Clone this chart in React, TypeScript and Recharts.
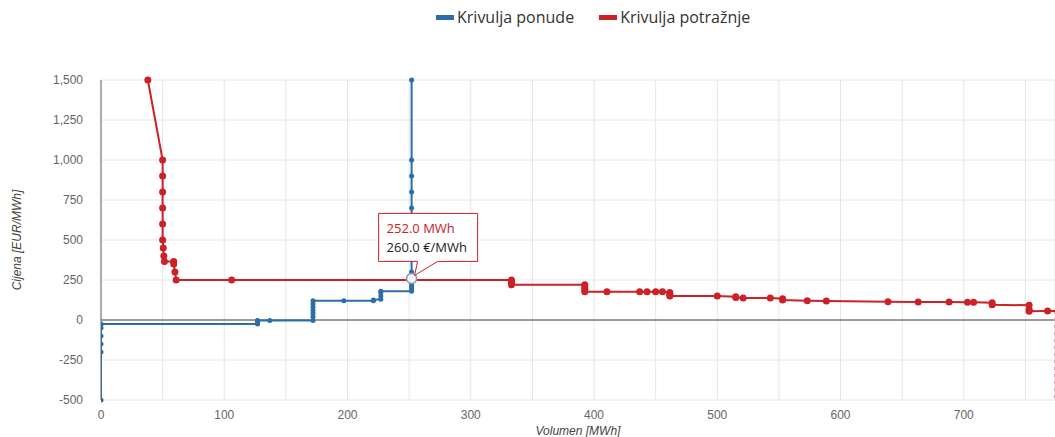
import {
  CartesianGrid,
  Line,
  LineChart,
  ReferenceDot,
  ReferenceLine,
  XAxis,
  YAxis,
} from "recharts";

const BLUE = "#2c6dab";
const RED = "#cc2127";

// Krivulja ponude (supply)
const supplyVolume = [
  0, 0, 0, 0, 0, 0, 0, 127, 127, 127, 127, 137, 172, 172, 172, 172, 172, 172,
  172, 197, 221, 221, 227, 227, 227, 227, 252, 252, 252, 252, 252, 252, 252,
  252, 252, 252, 252, 252, 252, 252, 252, 252,
];
const supplyPrice = [
  -500, -200, -150, -100, -50, -30, -25, -25, -15, -5, -3, -3, -3, 20, 40, 60,
  80, 100, 120, 120, 120, 125, 130, 150, 170, 180, 180, 195, 210, 225, 240,
  255, 260, 300, 400, 500, 600, 700, 800, 900, 1000, 1500,
];

// Krivulja potražnje (demand)
const demandVolume = [
  38, 50, 50, 50, 50, 50, 50, 50.5, 51, 51.5, 59, 59, 60, 61, 106, 333, 333,
  333, 333, 392.5, 392.5, 392.5, 392.5, 410.5, 437, 443, 450, 455.5, 461.5,
  461.5, 461.5, 500, 515, 515, 521, 543, 553, 553, 573, 588.5, 638.5, 663, 688,
  703, 708, 723, 723, 753, 753, 753, 768, 774,
];
const demandPrice = [
  1500, 1000, 900, 800, 700, 600, 500, 450, 400, 365, 365, 350, 300, 250, 250,
  250, 240, 230, 220, 220, 205, 190, 177, 177, 177, 177, 177, 177, 172, 160,
  150, 150, 146, 140, 137, 137, 133, 125, 121, 119, 114, 113, 113, 111, 111,
  108, 95, 92, 65, 55, 56, 56,
];
// last drop of demand, at the right edge
const demandTailVolume = [774, 774];
const demandTailPrice = [56, -500];

const xTicks = [0, 50, 100, 150, 200, 250, 300, 350, 400, 450, 500, 550, 600, 650, 700, 750];
const yTicks = [-500, -250, 0, 250, 500, 750, 1000, 1250, 1500];

const highlight = { volume: 252, price: 260 };

const supplyData = supplyVolume.map((x, i) => ({ x, y: supplyPrice[i] }));
const demandData = demandVolume.map((x, i) => ({ x, y: demandPrice[i] }));
const tailData = demandTailVolume.map((x, i) => ({ x, y: demandTailPrice[i] }));

const tickStyle = { fontSize: 12, fill: "#666", fontFamily: "Liberation Sans, Arial, sans-serif" };

function Callout(props: any) {
  const { viewBox } = props;
  const cx = viewBox.x + viewBox.width / 2;
  const cy = viewBox.y + viewBox.height / 2;
  const bx = cx - 33;
  const by = cy - 65;
  const w = 99;
  const h = 48;
  const path = `M${bx},${by} H${bx + w} V${by + h} H${cx + 26} L${cx + 3},${cy - 3} L${cx + 6},${by + h} H${bx} Z`;
  return (
    <g>
      <path d={path} fill="#fff" stroke={RED} strokeWidth={1} />
      <text x={bx + 8} y={by + 20} fontSize={13} fill={RED} fontFamily="Open Sans, sans-serif">
        {highlight.volume.toFixed(1)} MWh
      </text>
      <text x={bx + 8} y={by + 39} fontSize={13} fill="#222" fontFamily="Open Sans, sans-serif">
        {highlight.price.toFixed(1)} €/MWh
      </text>
    </g>
  );
}

function DemandDot(props: any) {
  const { cx, cy, index } = props;
  if (index === demandData.length - 1) return <g key={`d${index}`} />;
  return <circle key={`d${index}`} cx={cx} cy={cy} r={3.5} fill={RED} />;
}

function LegendBox() {
  const items = [
    { name: "Krivulja ponude", color: BLUE },
    { name: "Krivulja potražnje", color: RED },
  ];
  return (
    <div
      style={{
        position: "absolute",
        left: 436,
        top: 6,
        display: "flex",
        gap: 25,
        fontFamily: "Open Sans, sans-serif",
        fontSize: 16,
        color: "#333",
      }}
    >
      {items.map((it) => (
        <div key={it.name} style={{ display: "flex", alignItems: "center" }}>
          <span style={{ width: 18, height: 5, background: it.color, marginRight: 3 }} />
          <span>{it.name}</span>
        </div>
      ))}
    </div>
  );
}

export default function App() {
  return (
    <div style={{ position: "absolute", left: 0, top: 0, width: 1055, height: 437, background: "#fff" }}>
      <LineChart
        width={1055}
        height={437}
        margin={{ top: 80, right: 0, bottom: 0, left: 0 }}
      >
        <CartesianGrid stroke="#e6e6e6" />
        <XAxis
          type="number"
          dataKey="x"
          domain={[0, 774]}
          ticks={xTicks}
          interval={0}
          tickFormatter={(v: number) => (v % 100 === 0 ? String(v) : "")}
          allowDataOverflow
          axisLine={false}
          tickLine={false}
          tick={tickStyle}
          tickMargin={4}
          height={37}
          label={{
            value: "Volumen [MWh]",
            position: "insideBottom",
            offset: 2,
            style: { fontSize: 12, fontStyle: "italic", fill: "#444", fontFamily: "Liberation Sans, Arial, sans-serif" },
          }}
        />
        <YAxis
          type="number"
          domain={[-500, 1500]}
          ticks={yTicks}
          interval={0}
          tickFormatter={(v: number) => v.toLocaleString("en-US")}
          axisLine={{ stroke: "#666" }}
          tickLine={false}
          tick={tickStyle}
          tickMargin={12}
          width={101}
          label={{
            value: "Cijena [EUR/MWh]",
            angle: -90,
            position: "insideLeft",
            offset: 17,
            style: { textAnchor: "middle", fontSize: 12, fontStyle: "italic", fill: "#444", fontFamily: "Liberation Sans, Arial, sans-serif" },
          }}
        />
        <ReferenceLine y={0} stroke="#444" strokeWidth={1} />
        <Line
          data={tailData}
          dataKey="y"
          type="linear"
          stroke="#e9a3a6"
          strokeWidth={2}
          strokeDasharray="3 4"
          dot={false}
          activeDot={false}
          isAnimationActive={false}
        />
        <Line
          data={supplyData}
          dataKey="y"
          type="linear"
          stroke={BLUE}
          strokeWidth={2}
          dot={{ r: 2.5, fill: BLUE, stroke: BLUE, strokeWidth: 0 }}
          activeDot={false}
          isAnimationActive={false}
        />
        <Line
          data={demandData}
          dataKey="y"
          type="linear"
          stroke={RED}
          strokeWidth={2}
          dot={<DemandDot />}
          activeDot={false}
          isAnimationActive={false}
        />
        <ReferenceDot
          x={highlight.volume}
          y={highlight.price}
          r={5}
          fill="#f4f6fa"
          stroke="#7f9cc0"
          strokeWidth={1.5}
          ifOverflow="visible"
          label={<Callout />}
        />
      </LineChart>
      <LegendBox />
    </div>
  );
}
